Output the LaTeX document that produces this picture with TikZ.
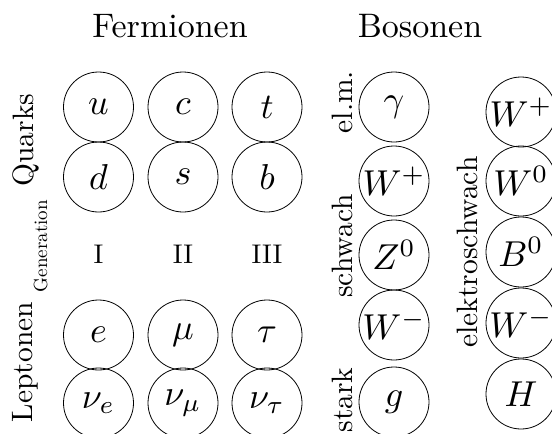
\RequirePackage{fix-cm}
\documentclass[tikz,border=0pt]{standalone}
\usepackage{graphicx}
\newcommand{\pmx}[1]{\scalebox{3.6}{$#1$}}
\newcommand{\hdx}[1]{\scalebox{3.4}{#1}}
\newcommand{\sdx}[1]{\scalebox{2.95}{#1}}
\newcommand{\rnx}[1]{\scalebox{2.7}{#1}}
\newcommand{\gnx}[1]{\scalebox{1.9}{#1}}
\begin{document}
\begin{tikzpicture}[x=1pt,y=-1pt,
  part/.style={circle, draw, line width=0.8pt, minimum size=70pt, inner sep=0pt},
  head/.style={anchor=base},
  side/.style={rotate=90, anchor=base},
  roman/.style={anchor=base}]
\useasboundingbox (0,0) rectangle (552,434);
\clip (0,0) rectangle (552,434);
% headings
\node[head] (ferm) at (170,37) {\hdx{Fermionen}};
\node[head] (bos) at (420,37) {\hdx{Bosonen}};
% quarks
\node[part] (u) at (98.5,107) {\pmx{u}};
\node[part] (c) at (183,107) {\pmx{c}};
\node[part] (t) at (267,107) {\pmx{t}};
\node[part] (d) at (98.5,177) {\pmx{d}};
\node[part] (s) at (183,177) {\pmx{s}};
\node[part] (b) at (267,177) {\pmx{b}};
% generations
\node[roman] (g1) at (98.5,263) {\rnx{I}};
\node[roman] (g2) at (183,263) {\rnx{II}};
\node[roman] (g3) at (267,263) {\rnx{III}};
% leptons
\node[part] (e) at (98.5,335) {\pmx{e}};
\node[part] (mu) at (183,335) {\pmx{\mu}};
\node[part] (tau) at (267,335) {\pmx{\tau}};
\node[part] (nue) at (98.5,403) {\pmx{\nu_e}};
\node[part] (numu) at (183,403) {\pmx{\nu_\mu}};
\node[part] (nutau) at (267,403) {\pmx{\nu_\tau}};
% side labels fermions
\node[side] (quarks) at (33,140) {\sdx{Quarks}};
\node[side] (leptonen) at (32,362) {\sdx{Leptonen}};
\node[side] (generation) at (47,246) {\gnx{Generation}};
% bosons column 1
\node[part] (gamma) at (394,107) {\pmx{\gamma}};
\node[part] (wp1) at (394,181) {\pmx{W^+}};
\node[part] (z0) at (394,255) {\pmx{Z^0}};
\node[part] (wm1) at (394,325) {\pmx{W^-}};
\node[part] (gl) at (394,402) {\pmx{g}};
% bosons column 2
\node[part] (wp2) at (521,112) {\pmx{W^+}};
\node[part] (w0) at (521,181) {\pmx{W^0}};
\node[part] (b0) at (521,252) {\pmx{B^0}};
\node[part] (wm2) at (521,323) {\pmx{W^-}};
\node[part] (h) at (521,394) {\pmx{H}};
% side labels bosons
\node[side] (elm) at (352,102) {\sdx{el.m.}};
\node[side] (schwach) at (352,246) {\sdx{schwach}};
\node[side] (stark) at (352,400) {\sdx{stark}};
\node[side] (ews) at (477,252) {\sdx{elektroschwach}};
\end{tikzpicture}
\end{document}
